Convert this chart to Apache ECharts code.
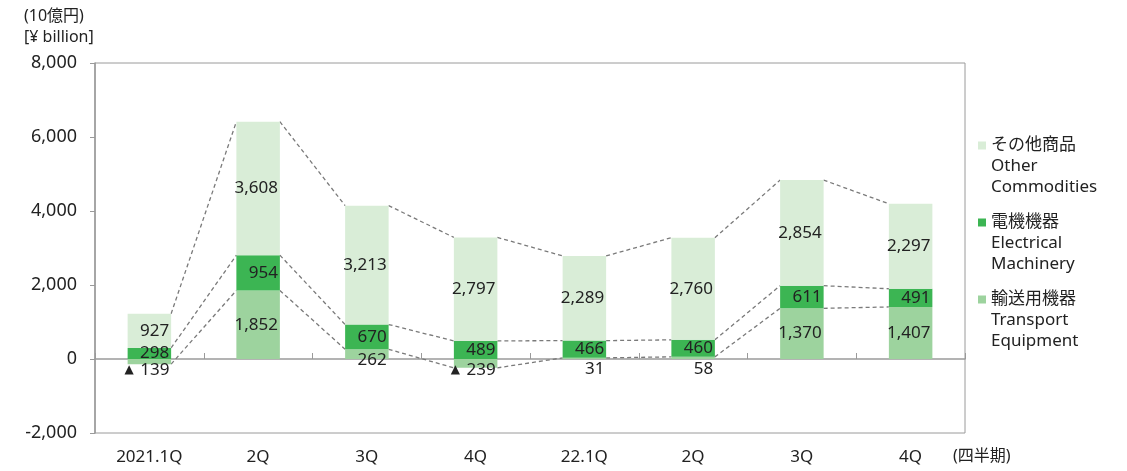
<!DOCTYPE html>
<html>
<head>
<meta charset="utf-8">
<script src="https://cdn.jsdelivr.net/npm/echarts@6/dist/echarts.min.js"></script>
<style>html,body{margin:0;padding:0;background:#fff}#c{width:1127px;height:471px}</style>
</head>
<body>
<div id="c"></div>
<script>
var categories = ['2021.1Q', '2Q', '3Q', '4Q', '22.1Q', '2Q', '3Q', '4Q'];
var seriesNames = ['輸送用機器\nTransport\nEquipment', '電機機器\nElectrical\nMachinery', 'その他商品\nOther\nCommodities'];
var transport = [-139, 1852, 262, -239, 31, 58, 1370, 1407];
var electrical = [298, 954, 670, 489, 466, 460, 611, 491];
var other = [927, 3608, 3213, 2797, 2289, 2760, 2854, 2297];
var yTicks = [-2000, 0, 2000, 4000, 6000, 8000];

var colors = ['#9dd39e', '#3cb553', '#d9edd7'];
var FONT = "'Noto Sans', 'Noto Sans CJK JP', sans-serif";
var TXT = '#222';

function fmt(v) {
  var s = Math.abs(v).toLocaleString('en-US');
  return v < 0 ? '{t|▲} ' + s : s;
}

var baseLabel = {
  show: true, position: 'insideRight', distance: 2,
  fontSize: 17, fontFamily: FONT, color: TXT,
  formatter: function (p) { return fmt(p.value); },
  rich: { t: { fontSize: 12, fontFamily: 'DejaVu Sans', color: TXT, padding: [0, 2, 1, 0] } }
};

var transportData = transport.map(function (v) {
  if (v < 0) {
    return { value: v, label: { position: 'insideTop', distance: 3, align: 'right', offset: [20, 0] } };
  }
  if (v < 100) {
    return { value: v, label: { position: 'bottom', distance: 2, align: 'right', offset: [20, 0] } };
  }
  if (v < 400) {
    return { value: v, label: { position: 'insideRight', offset: [0, 6] } };
  }
  return v;
});

// connector end values
var lineTransport = transport.slice();
var lineElec = electrical.map(function (v, i) { return v + Math.max(transport[i], 0); });
var lineOther = other.map(function (v, i) { return v + lineElec[i]; });

function segs(arr) {
  var out = [];
  for (var i = 0; i < arr.length - 1; i++) out.push([i, arr[i], i + 1, arr[i + 1]]);
  return out;
}

function connector(arr) {
  return {
    type: 'custom',
    xAxisIndex: 0, yAxisIndex: 0,
    silent: true, z: 1,
    dimensions: ['x', 'y', 'x2', 'y2'],
    encode: { x: 0, y: 1 },
    data: segs(arr),
    renderItem: function (params, api) {
      var p1 = api.coord([api.value(0), api.value(1)]);
      var p2 = api.coord([api.value(2), api.value(3)]);
      var half = api.size([1, 0])[0] * 0.4 / 2;
      return {
        type: 'line',
        shape: { x1: p1[0] + half, y1: p1[1], x2: p2[0] - half, y2: p2[1] },
        style: { stroke: '#7a7a7a', lineWidth: 1.3, lineDash: [4, 3] }
      };
    }
  };
}

var chart = echarts.init(document.getElementById('c'), null, { renderer: 'canvas' });
chart.setOption({
  animation: false,
  textStyle: { fontFamily: FONT },
  grid: { left: 95, right: 162, top: 63, bottom: 38, show: true, borderColor: '#9a9a9a', borderWidth: 1 },
  legend: {
    orient: 'vertical', left: 973, top: 88,
    data: [seriesNames[2], seriesNames[1], seriesNames[0]],
    formatter: function (name) { return '\n\n' + name; },
    icon: 'rect', itemWidth: 8, itemHeight: 8, itemGap: -28,
    selectedMode: false,
    textStyle: { fontSize: 17, fontFamily: FONT, color: TXT, lineHeight: 21 }
  },
  graphic: [
    { type: 'text', left: 24, top: 8, style: { text: '(10億円)', font: '16px ' + FONT, fill: TXT } },
    { type: 'text', left: 24, top: 29, style: { text: '[¥ billion]', font: '16px ' + FONT, fill: TXT } },
    { type: 'text', left: 953, top: 448, style: { text: '(四半期)', font: '16px ' + FONT, fill: TXT } }
  ],
  xAxis: [
    {
      type: 'category', data: categories, position: 'bottom',
      axisLine: { onZero: true, lineStyle: { color: '#9a9a9a', width: 1.5 } },
      axisTick: { show: true, inside: true, length: 6, lineStyle: { color: '#9a9a9a' } },
      axisLabel: { show: false }
    },
    {
      type: 'category', data: categories, position: 'bottom',
      axisLine: { show: false }, axisTick: { show: false },
      axisLabel: { show: true, margin: 16, fontSize: 17, fontFamily: FONT, color: TXT }
    }
  ],
  yAxis: {
    type: 'value', min: yTicks[0], max: yTicks[yTicks.length - 1], interval: 2000,
    splitLine: { show: false },
    axisLine: { show: true, lineStyle: { color: '#9a9a9a', width: 1.5 } },
    axisTick: { show: true, length: 5, lineStyle: { color: '#9a9a9a' } },
    axisLabel: { margin: 18, fontSize: 18, fontFamily: FONT, color: TXT,
      formatter: function (v) { return v.toLocaleString('en-US'); } }
  },
  series: [
    { name: seriesNames[0], type: 'bar', stack: 'total', barWidth: '40%', data: transportData,
      itemStyle: { color: colors[0] }, label: baseLabel, z: 2 },
    { name: seriesNames[1], type: 'bar', stack: 'total', barWidth: '40%', data: electrical,
      itemStyle: { color: colors[1] }, label: baseLabel, z: 2 },
    { name: seriesNames[2], type: 'bar', stack: 'total', barWidth: '40%', data: other,
      itemStyle: { color: colors[2] }, label: baseLabel, z: 2 },
    connector(lineTransport),
    connector(lineElec),
    connector(lineOther)
  ]
});
</script>
</body>
</html>
